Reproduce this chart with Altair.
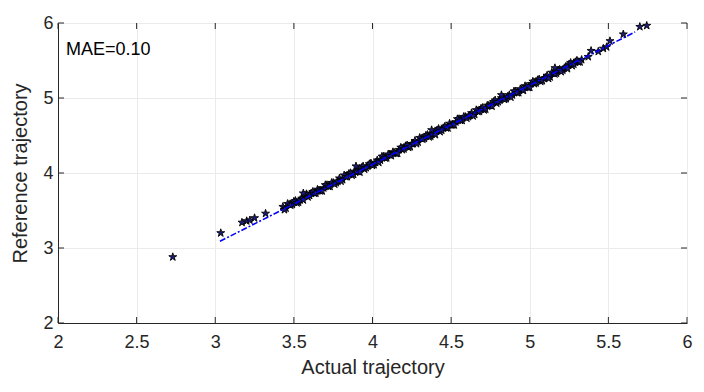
import altair as alt
import pandas as pd

# Dense band of points (actual vs reference), first pass
band_x = [3.43, 3.45, 3.47, 3.49, 3.51, 3.53, 3.55, 3.57, 3.59, 3.61,
          3.63, 3.65, 3.67, 3.69, 3.71, 3.73, 3.75, 3.77, 3.79, 3.81,
          3.83, 3.85, 3.87, 3.89, 3.91, 3.93, 3.95, 3.97, 3.99, 4.01,
          4.03, 4.05, 4.07, 4.09, 4.11, 4.13, 4.15, 4.17, 4.19, 4.21,
          4.23, 4.25, 4.27, 4.29, 4.31, 4.33, 4.35, 4.37, 4.39, 4.41,
          4.43, 4.45, 4.47, 4.49, 4.51, 4.53, 4.55, 4.57, 4.59, 4.61,
          4.63, 4.65, 4.67, 4.69, 4.71, 4.73, 4.75, 4.77, 4.79, 4.81,
          4.83, 4.85, 4.87, 4.89, 4.91, 4.93, 4.95, 4.97, 4.99, 5.01,
          5.03, 5.05, 5.07, 5.09, 5.11, 5.13, 5.15, 5.17, 5.19, 5.21,
          5.23, 5.25, 5.27, 5.29, 5.31, 5.33]
band_y = [3.55, 3.53, 3.58, 3.58, 3.63, 3.61, 3.66, 3.70, 3.68, 3.73,
          3.73, 3.78, 3.76, 3.80, 3.84, 3.82, 3.87, 3.87, 3.93, 3.91,
          3.95, 3.99, 3.97, 4.02, 4.02, 4.07, 4.05, 4.09, 4.13, 4.11,
          4.17, 4.17, 4.22, 4.20, 4.24, 4.28, 4.26, 4.31, 4.31, 4.36,
          4.34, 4.39, 4.43, 4.41, 4.46, 4.46, 4.51, 4.49, 4.53, 4.57,
          4.55, 4.60, 4.60, 4.66, 4.64, 4.68, 4.72, 4.70, 4.75, 4.75,
          4.80, 4.78, 4.82, 4.86, 4.84, 4.90, 4.90, 4.95, 4.93, 4.97,
          5.01, 4.99, 5.04, 5.04, 5.09, 5.07, 5.11, 5.16, 5.14, 5.19,
          5.19, 5.24, 5.22, 5.26, 5.30, 5.28, 5.33, 5.33, 5.38, 5.37,
          5.41, 5.45, 5.43, 5.48, 5.48, 5.51]

# Dense band, second pass (in between)
band2_x = [3.44, 3.46, 3.48, 3.50, 3.52, 3.54, 3.56, 3.58, 3.60, 3.62,
           3.64, 3.66, 3.68, 3.70, 3.72, 3.74, 3.76, 3.78, 3.80, 3.82,
           3.84, 3.86, 3.88, 3.90, 3.92, 3.94, 3.96, 3.98, 4.00, 4.02,
           4.04, 4.06, 4.08, 4.10, 4.12, 4.14, 4.16, 4.18, 4.20, 4.22,
           4.24, 4.26, 4.28, 4.30, 4.32, 4.34, 4.36, 4.38, 4.40, 4.42,
           4.44, 4.46, 4.48, 4.50, 4.52, 4.54, 4.56, 4.58, 4.60, 4.62,
           4.64, 4.66, 4.68, 4.70, 4.72, 4.74, 4.76, 4.78, 4.80, 4.82,
           4.84, 4.86, 4.88, 4.90, 4.92, 4.94, 4.96, 4.98, 5.00, 5.02,
           5.04, 5.06, 5.08, 5.10, 5.12, 5.14, 5.16, 5.18, 5.20, 5.22,
           5.24, 5.26, 5.28, 5.30, 5.32]
band2_y = [3.51, 3.59, 3.57, 3.62, 3.60, 3.64, 3.64, 3.72, 3.70, 3.75,
           3.73, 3.77, 3.76, 3.84, 3.82, 3.87, 3.85, 3.89, 3.89, 3.97,
           3.95, 4.00, 3.98, 4.02, 4.01, 4.09, 4.07, 4.12, 4.10, 4.14,
           4.14, 4.22, 4.20, 4.25, 4.23, 4.27, 4.26, 4.34, 4.32, 4.37,
           4.35, 4.39, 4.39, 4.47, 4.45, 4.50, 4.48, 4.52, 4.51, 4.59,
           4.57, 4.62, 4.60, 4.64, 4.64, 4.72, 4.70, 4.75, 4.73, 4.77,
           4.76, 4.84, 4.82, 4.87, 4.85, 4.90, 4.89, 4.97, 4.95, 5.00,
           4.98, 5.02, 5.01, 5.09, 5.07, 5.12, 5.10, 5.15, 5.14, 5.22,
           5.20, 5.25, 5.23, 5.27, 5.26, 5.34, 5.32, 5.37, 5.35, 5.40,
           5.39, 5.47, 5.45, 5.50, 5.48]

# Scattered points off the band
out_x = [2.73, 3.035, 3.17, 3.20, 3.22, 3.25, 3.32, 3.56, 3.895, 4.376,
         4.82, 5.16, 5.372, 5.39, 5.436, 5.468, 5.489, 5.51, 5.595, 5.70, 5.744]
out_y = [2.88, 3.20, 3.34, 3.36, 3.37, 3.40, 3.46, 3.73, 4.09, 4.573,
         5.04, 5.40, 5.55, 5.63, 5.62, 5.66, 5.68, 5.76, 5.85, 5.95, 5.965]

# Fitted line endpoints
fit_x = [3.03, 5.67]
fit_y = [3.09, 5.88]

x_ticks = [2, 2.5, 3, 3.5, 4, 4.5, 5, 5.5, 6]
y_ticks = [2, 3, 4, 5, 6]

W, H = 629, 300
AX = "#262626"
FONT = "Liberation Sans"

pts = pd.DataFrame({"x": band_x + band2_x + out_x, "y": band_y + band2_y + out_y})
fit = pd.DataFrame({"x": fit_x, "y": fit_y})
xt = pd.DataFrame({"t": x_ticks})
yt = pd.DataFrame({"t": y_ticks})

xscale = alt.Scale(domain=[2, 6], nice=False, zero=False)
yscale = alt.Scale(domain=[2, 6], nice=False, zero=False)

xaxis = alt.Axis(values=x_ticks, title="Actual trajectory", grid=True, gridColor="#ebebeb",
                 ticks=False, labelPadding=10, titlePadding=6, labelFontSize=18, titleFontSize=20,
                 labelFont=FONT, titleFont=FONT, titleFontWeight="normal", labelColor=AX,
                 titleColor=AX, domainColor=AX, labelFlush=False, format="~g")
yaxis = alt.Axis(values=y_ticks, title="Reference trajectory", grid=True, gridColor="#ebebeb",
                 ticks=False, labelPadding=5, titlePadding=12, labelFontSize=18, titleFontSize=20,
                 labelFont=FONT, titleFont=FONT, titleFontWeight="normal", labelColor=AX,
                 titleColor=AX, domainColor=AX, labelFlush=False, format="~g")

star = ("M0,-1L0.2245,-0.309L0.951,-0.309L0.363,0.118L0.588,0.809L0,0.382"
        "L-0.588,0.809L-0.363,0.118L-0.951,-0.309L-0.2245,-0.309Z")

points = alt.Chart(pts).mark_point(shape=star, size=70, filled=True, fill="#1c1c7a",
                                   stroke="black", strokeWidth=0.9, opacity=1).encode(
    x=alt.X("x:Q", scale=xscale, axis=xaxis),
    y=alt.Y("y:Q", scale=yscale, axis=yaxis),
)

line = alt.Chart(fit).mark_line(color="#0000ff", strokeWidth=1.6, strokeDash=[6, 2, 2, 2]).encode(
    x=alt.X("x:Q", scale=xscale),
    y=alt.Y("y:Q", scale=yscale),
)

tick_bottom = alt.Chart(xt).mark_rule(color=AX, strokeWidth=1).encode(
    x=alt.X("t:Q", scale=xscale), y=alt.value(H), y2=alt.value(H - 6))
tick_top = alt.Chart(xt).mark_rule(color=AX, strokeWidth=1).encode(
    x=alt.X("t:Q", scale=xscale), y=alt.value(0), y2=alt.value(6))
tick_left = alt.Chart(yt).mark_rule(color=AX, strokeWidth=1).encode(
    y=alt.Y("t:Q", scale=yscale), x=alt.value(0), x2=alt.value(6))
tick_right = alt.Chart(yt).mark_rule(color=AX, strokeWidth=1).encode(
    y=alt.Y("t:Q", scale=yscale), x=alt.value(W), x2=alt.value(W - 6))

label = alt.Chart(pd.DataFrame({"t": ["MAE=0.10"]})).mark_text(
    align="left", baseline="alphabetic", fontSize=18, font=FONT, color="black").encode(
    x=alt.value(8), y=alt.value(32), text="t:N")

chart = alt.layer(points, line, tick_bottom, tick_top, tick_left, tick_right, label).properties(
    width=W, height=H,
    autosize=alt.AutoSizeParams(type="none"),
    padding={"left": 50, "top": 15, "right": 9, "bottom": 61},
).configure_view(stroke=AX, strokeWidth=1).configure(background="white")

chart.save("out.html", embed_options={"renderer": "svg", "actions": False})
